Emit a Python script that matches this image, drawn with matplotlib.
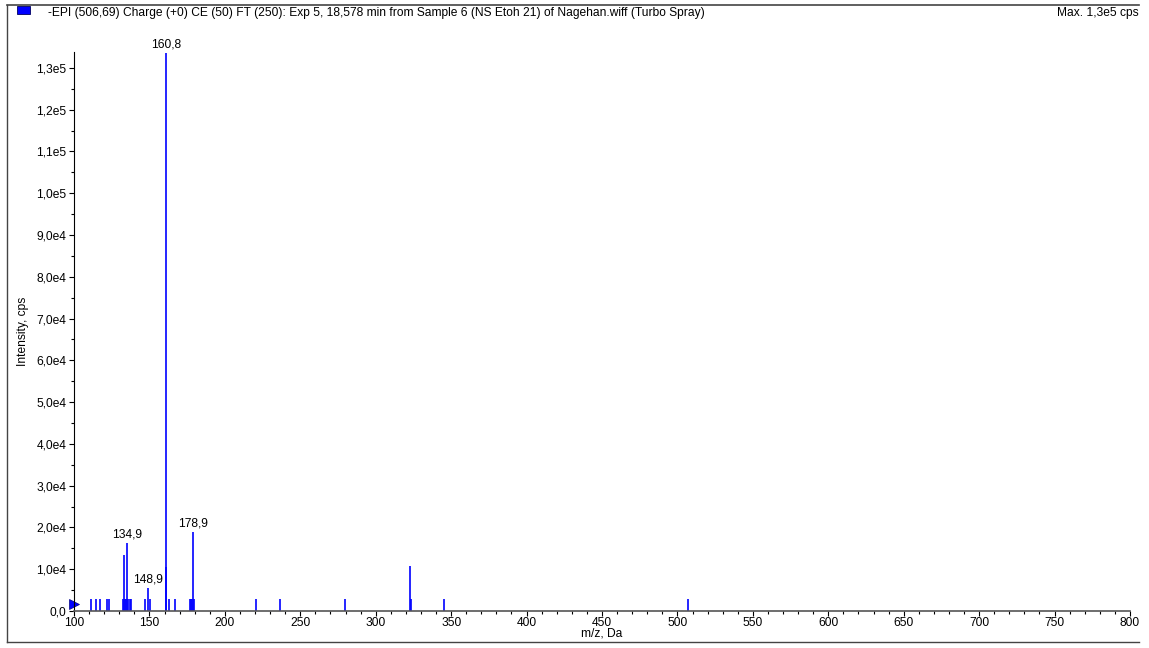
import matplotlib
matplotlib.use("Agg")
import matplotlib.pyplot as plt
from matplotlib.ticker import MultipleLocator, FuncFormatter
from matplotlib.patches import Rectangle
from matplotlib.lines import Line2D

# -----------------------
# Data
# -----------------------
mz = [111.1, 114.6, 117.2, 121.7, 123.0, 132.7, 133.1, 133.6, 134.5, 134.9,
      136.0, 137.1, 138.0, 147.0, 148.9, 150.4, 160.8, 161.3, 163.1, 166.8,
      177.0, 177.6, 178.3, 178.9, 179.4, 220.9, 236.8, 279.8, 323.0, 323.4,
      345.1, 506.7]
intensity = [2800, 2800, 2800, 2800, 2800, 2800, 13400, 2800, 2800, 16200,
             2800, 2800, 2800, 2800, 5400, 2800, 133500, 10600, 2800, 2800,
             2800, 2800, 2800, 18800, 2800, 2800, 2800, 2800, 10800, 2800,
             2800, 2800]
labelled = [134.9, 148.9, 160.8, 178.9]

title = ("-EPI (506,69) Charge (+0) CE (50) FT (250): Exp 5, 18,578 min from "
         "Sample 6 (NS Etoh 21) of Nagehan.wiff (Turbo Spray)")
max_text = "Max. 1,3e5 cps"

plt.rcParams['font.family'] = ['Liberation Sans', 'DejaVu Sans']
FS = 8.65

W, H = 1149, 648
fig = plt.figure(figsize=(W / 100, H / 100), dpi=100)
ax = fig.add_axes([74 / W, 1 - 611 / H, (1130 - 74) / W, (611 - 52) / H])

blue = (0, 0, 1)
ax.vlines(mz, 0, intensity, color=blue, lw=1.2)
for m, v in zip(mz, intensity):
    if m in labelled:
        ax.annotate(f"{m:.1f}".replace(".", ","), (m, v), xytext=(0, 2),
                    textcoords="offset points", ha="center", va="bottom",
                    fontsize=FS)

# precursor marker at the left edge
ax.plot([100], [1700], marker=">", color=blue, ms=7, clip_on=False,
        markeredgecolor="#000080", markeredgewidth=0.5)

ax.set_xlim(100, 800)
ax.set_ylim(0, 133800)


def fmt(v, pos):
    if v == 0:
        return "0,0"
    e = len(str(int(round(v)))) - 1
    return f"{v / 10 ** e:.1f}".replace(".", ",") + f"e{e}"


ax.yaxis.set_major_locator(MultipleLocator(10000))
ax.yaxis.set_minor_locator(MultipleLocator(5000))
ax.yaxis.set_major_formatter(FuncFormatter(fmt))
ax.xaxis.set_major_locator(MultipleLocator(50))
ax.xaxis.set_minor_locator(MultipleLocator(10))

for s in ["top", "right"]:
    ax.spines[s].set_visible(False)
ax.spines["left"].set_color("black")
ax.spines["bottom"].set_color("#555555")
ax.spines["left"].set_linewidth(0.8)
ax.spines["bottom"].set_linewidth(1.2)
ax.tick_params(axis="y", which="major", length=3.5, width=0.8, pad=2,
               labelsize=FS)
ax.tick_params(axis="x", which="major", length=3.5, width=0.8, pad=1,
               labelsize=FS)
ax.tick_params(axis="both", which="minor", length=2.5, width=0.8)

ax.set_xlabel("m/z, Da", fontsize=FS, labelpad=-1.5)
ax.set_ylabel("Intensity, cps", fontsize=FS, labelpad=5)

# header
fig.add_artist(Rectangle((17 / W, 1 - 14 / H), 13 / W, 8 / H,
                         transform=fig.transFigure, facecolor=blue,
                         edgecolor="#000060", lw=0.6))
fig.text(48 / W, 1 - 13 / H, title, ha="left", va="center", fontsize=FS)
fig.text(1139 / W, 1 - 13 / H, max_text, ha="right", va="center",
         fontsize=FS)

# frame lines
fig.add_artist(Line2D([6.5 / W, 1139 / W], [1 - 4.5 / H, 1 - 4.5 / H],
                      transform=fig.transFigure, color="#444444", lw=1.2))
fig.add_artist(Line2D([6.5 / W, 6.5 / W], [1 - 4.5 / H, 1 - 641.5 / H],
                      transform=fig.transFigure, color="#444444", lw=1.0))
fig.add_artist(Line2D([6.5 / W, 1139 / W], [1 - 641.5 / H, 1 - 641.5 / H],
                      transform=fig.transFigure, color="#444444", lw=1.0))

fig.savefig("out.png", dpi=100)
plt.close(fig)
